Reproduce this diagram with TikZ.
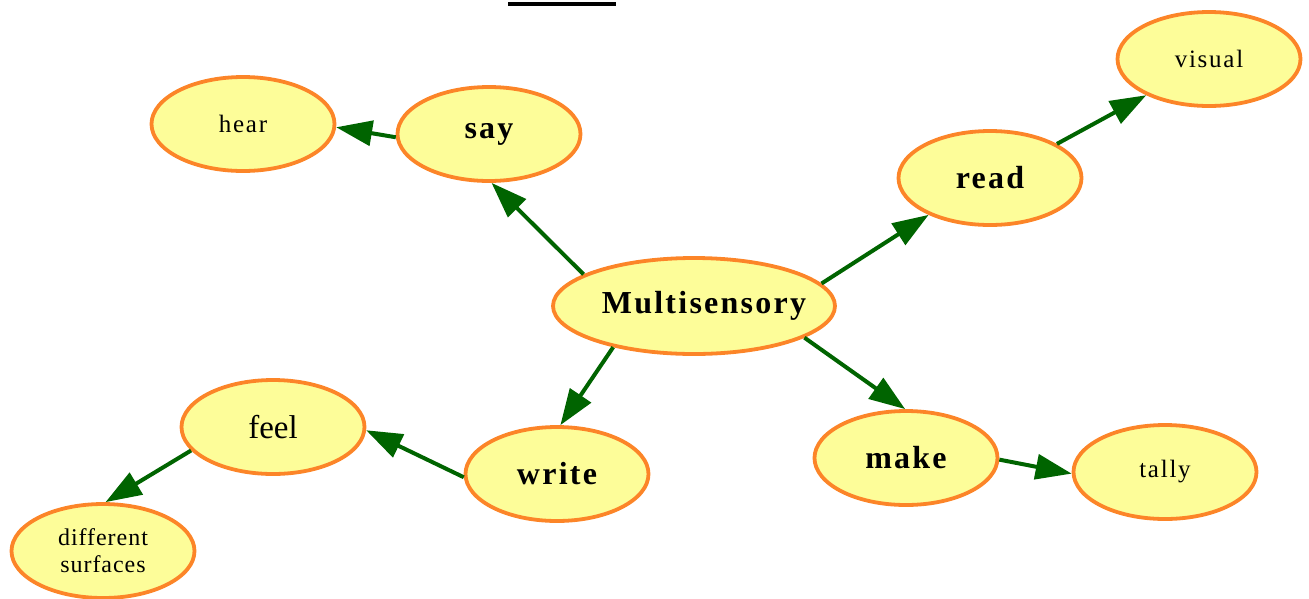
\documentclass[tikz,border=0pt]{standalone}
\usepackage{fontspec}
\setmainfont{Liberation Serif}
\usetikzlibrary{shapes.geometric,arrows.meta}
\definecolor{nodefill}{HTML}{FDFD99}
\definecolor{nodeline}{HTML}{FC8528}
\definecolor{edgecol}{HTML}{006400}
\tikzset{
  bub/.style={ellipse, draw=nodeline, fill=nodefill, line width=3.8pt, inner sep=0pt,
    minimum width=183pt, minimum height=94pt, align=center},
  boldtxt/.style={font=\fontsize{32}{34}\selectfont\bfseries\addfontfeature{LetterSpace=7}},
  normtxt/.style={font=\fontsize{25}{28}\selectfont\addfontfeature{LetterSpace=7}},
  conn/.style={draw=edgecol, line width=4pt, -{Triangle[length=36pt,width=25pt]}}
}
\begin{document}
\begin{tikzpicture}[x=1pt,y=-1pt]
\useasboundingbox (0,0) rectangle (1309,598);
\draw[line width=3.5pt] (508,4) -- (616,4);
\node[bub, boldtxt, minimum width=282pt, minimum height=96pt] (m) at (694,306) {\makebox[0pt][c]{\hspace*{20pt}Multisensory}};
\node[bub, boldtxt] (say) at (489,134) {say};
\node[bub, normtxt] (hear) at (243,124) {hear};
\node[bub, boldtxt] (read) at (990,178) {read};
\node[bub, normtxt] (visual) at (1209,59) {visual};
\node[bub, boldtxt] (make) at (906,458) {make};
\node[bub, normtxt] (tally) at (1165,472) {tally};
\node[bub, boldtxt] (write) at (557,474) {write};
\node[bub, font=\fontsize{33}{36}\selectfont] (feel) at (273,427) {feel};
\node[bub, font=\fontsize{24}{27}\selectfont\addfontfeature{LetterSpace=4}] (diff) at (103,551) {different\\surfaces};
\draw[conn] (m.164.8) -- (say.273);
\draw[conn] (m.10) -- (read.211.6);
\draw[conn] (m.-16.6) -- (make.91);
\draw[conn] (m.207.9) -- (write.86.5);
\draw[conn] (say.182.5) -- (hear.358);
\draw[conn] (read.27.6) -- (visual.210.6);
\draw[conn] (make.-1.8) -- (tally.181.2);
\draw[conn] (write.182.5) -- (feel.-2.9);
\draw[conn] (feel.196.8) -- (diff.87.6);
\end{tikzpicture}
\end{document}
